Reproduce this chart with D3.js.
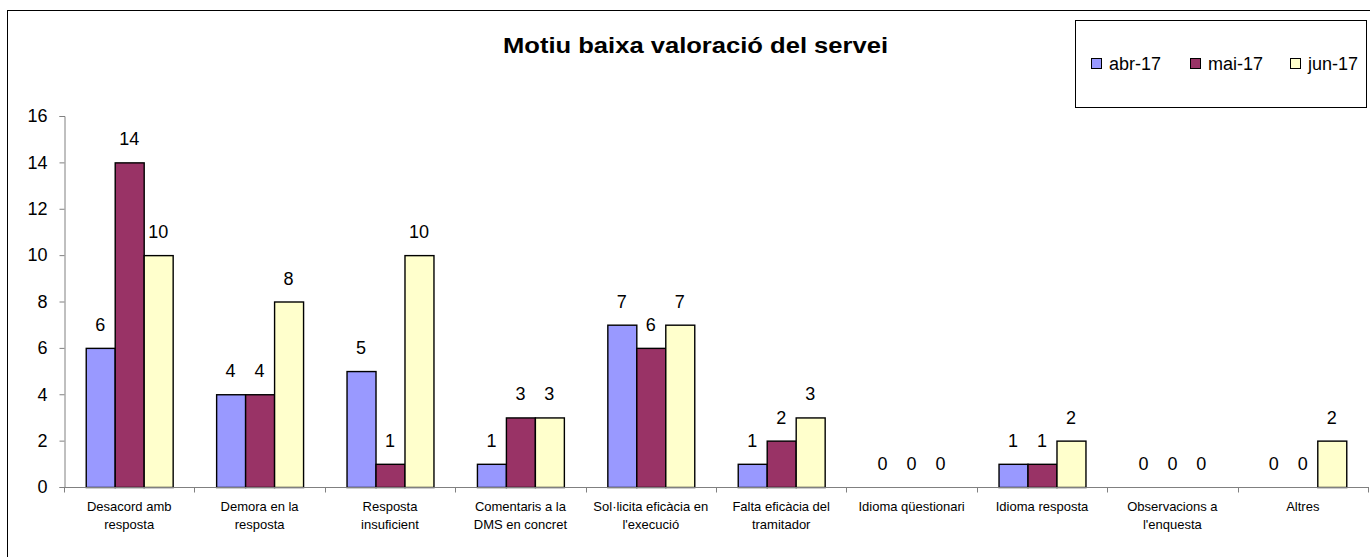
<!DOCTYPE html>
<html>
<head>
<meta charset="utf-8">
<script src="https://cdn.jsdelivr.net/npm/d3@7"></script>
<style>
  html, body { margin: 0; padding: 0; background: #fff; }
  svg { display: block; font-family: Arial, "Liberation Sans", sans-serif; }
</style>
</head>
<body>
<svg id="chart" width="1370" height="557"></svg>
<script>
// Reasons for a low service rating, by month
const categories = [
  ["Desacord amb", "resposta"],
  ["Demora en la", "resposta"],
  ["Resposta", "insuficient"],
  ["Comentaris a la", "DMS en concret"],
  ["Sol·licita eficàcia en", "l'execució"],
  ["Falta eficàcia del", "tramitador"],
  ["Idioma qüestionari"],
  ["Idioma resposta"],
  ["Observacions a", "l'enquesta"],
  ["Altres"]
];
const seriesNames = ["abr-17", "mai-17", "jun-17"];
const abr17 = [6, 4, 5, 1, 7, 1, 0, 1, 0, 0];
const mai17 = [14, 4, 1, 3, 6, 2, 0, 1, 0, 0];
const jun17 = [10, 8, 10, 3, 7, 3, 0, 2, 0, 2];
const yTicks = [0, 2, 4, 6, 8, 10, 12, 14, 16];
const colors = ["#9999FF", "#993366", "#FFFFCC"];
const title = "Motiu baixa valoració del servei";

const series = [abr17, mai17, jun17];
const svg = d3.select("#chart");

// Chart frame
svg.append("rect")
  .attr("x", 7.5).attr("y", 10.5)
  .attr("width", 1380).attr("height", 560)
  .attr("fill", "none").attr("stroke", "#000").attr("stroke-width", 1);

const plot = { left: 64, right: 1368, top: 116, bottom: 487 };

const x0 = d3.scaleBand()
  .domain(d3.range(categories.length))
  .range([plot.left, plot.right])
  .paddingInner(0).paddingOuter(0);

// 150% gap between groups, split evenly on both sides
const x1 = d3.scaleBand()
  .domain(d3.range(series.length))
  .range([0, x0.bandwidth()])
  .paddingInner(0)
  .paddingOuter(0.75);

const y = d3.scaleLinear().domain([0, 16]).range([plot.bottom, plot.top]);

// Title (set in a slightly widened face)
svg.append("text")
  .attr("x", 503).attr("y", 52.5)
  .attr("font-size", 22).attr("font-weight", "bold")
  .attr("textLength", 385).attr("lengthAdjust", "spacingAndGlyphs")
  .text(title);

// Y axis
const yAxis = svg.append("g")
  .attr("transform", `translate(${plot.left + 0.5},0)`)
  .call(d3.axisLeft(y).tickValues(yTicks).tickSize(5).tickPadding(12).tickFormat(d3.format("d")));
yAxis.select(".domain").attr("stroke", "#808080");
yAxis.selectAll(".tick line").attr("stroke", "#808080");
yAxis.selectAll(".tick text").attr("font-size", 18).attr("fill", "#000")
  .attr("font-family", "Arial, 'Liberation Sans', sans-serif");

// Bars
const groups = svg.append("g").selectAll("g")
  .data(categories.map((c, i) => i))
  .join("g")
  .attr("transform", i => `translate(${x0(i)},0)`);

groups.selectAll("rect")
  .data(i => series.map((s, k) => ({ k, v: s[i] })))
  .join("rect")
  .attr("x", d => x1(d.k) + 0.5)
  .attr("y", d => y(d.v) + 0.5)
  .attr("width", x1.bandwidth())
  .attr("height", d => Math.max(0, y(0) - y(d.v)))
  .attr("fill", d => colors[d.k])
  .attr("stroke", "#000")
  .attr("stroke-width", 1.4)
  .attr("display", d => d.v === 0 ? "none" : null);

// Value labels
groups.selectAll("text.val")
  .data(i => series.map((s, k) => ({ k, v: s[i] })))
  .join("text")
  .attr("class", "val")
  .attr("x", d => x1(d.k) + x1.bandwidth() / 2)
  .attr("y", d => y(d.v) - 17)
  .attr("text-anchor", "middle")
  .attr("font-size", 18)
  .text(d => d.v);

// X axis
const xAxis = svg.append("g")
  .attr("transform", `translate(0,${plot.bottom + 0.5})`);
xAxis.append("line")
  .attr("x1", plot.left).attr("x2", plot.right + 1)
  .attr("stroke", "#808080");
xAxis.selectAll("line.tick")
  .data(d3.range(categories.length + 1))
  .join("line")
  .attr("class", "tick")
  .attr("x1", i => Math.round(plot.left + i * x0.bandwidth()) + 0.5)
  .attr("x2", i => Math.round(plot.left + i * x0.bandwidth()) + 0.5)
  .attr("y1", 0).attr("y2", 5)
  .attr("stroke", "#808080");

const xl = xAxis.selectAll("text")
  .data(categories)
  .join("text")
  .attr("x", (c, i) => x0(i) + x0.bandwidth() / 2)
  .attr("y", 23.5)
  .attr("text-anchor", "middle")
  .attr("font-size", 13);
xl.selectAll("tspan")
  .data(c => c)
  .join("tspan")
  .attr("x", function () { return d3.select(this.parentNode).attr("x"); })
  .attr("dy", (t, j) => j === 0 ? 0 : 18)
  .text(t => t);

// Legend
const lg = svg.append("g");
lg.append("rect")
  .attr("x", 1075.5).attr("y", 20.5)
  .attr("width", 291).attr("height", 87)
  .attr("fill", "#fff").attr("stroke", "#000");
const legendX = [1091, 1190, 1290];
seriesNames.forEach((n, k) => {
  lg.append("rect")
    .attr("x", legendX[k] + 0.5).attr("y", 58.5)
    .attr("width", 10).attr("height", 10)
    .attr("fill", colors[k]).attr("stroke", "#000");
  lg.append("text")
    .attr("x", legendX[k] + 18).attr("y", 70)
    .attr("font-size", 18)
    .text(n);
});
</script>
</body>
</html>
